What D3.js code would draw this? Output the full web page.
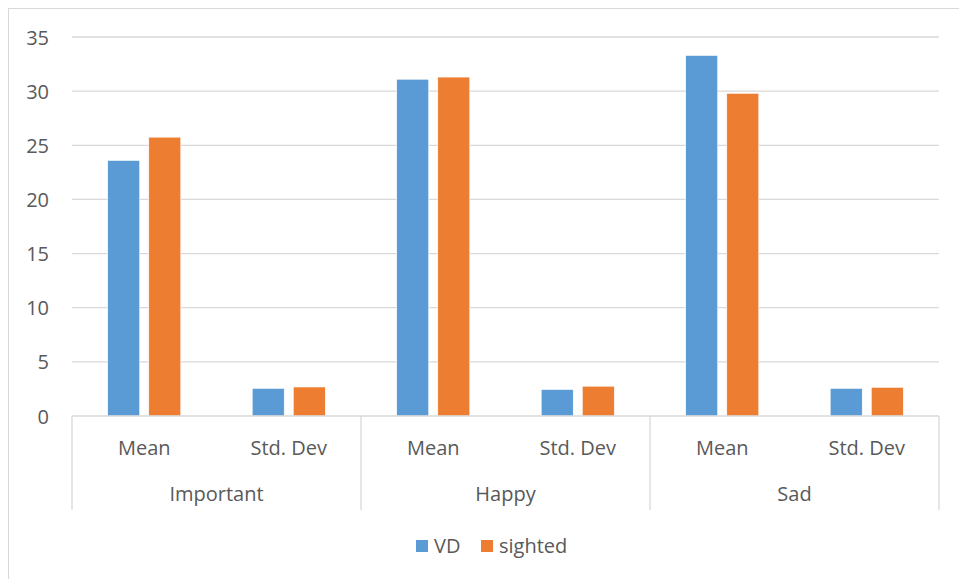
<!DOCTYPE html>
<html>
<head>
<meta charset="utf-8">
<script src="https://cdn.jsdelivr.net/npm/d3@7"></script>
<style>
  body { margin: 0; background: #fff; }
  text { font-family: "Open Sans", "Noto Sans", sans-serif; fill: #595959; }
</style>
</head>
<body>
<svg id="chart" width="959" height="579"></svg>
<script>
var groups = ['Important', 'Happy', 'Sad'];
var stats = ['Mean', 'Std. Dev'];
var series = ['VD', 'sighted'];
var vdValues = [23.6, 2.55, 31.1, 2.45, 33.3, 2.55];
var sightedValues = [25.75, 2.68, 31.3, 2.75, 29.8, 2.65];
var yTicks = [0, 5, 10, 15, 20, 25, 30, 35];
var colors = ['#5b9bd5', '#ed7d31'];

var svg = d3.select('#chart');

var plotLeft = 72, plotRight = 939, plotTop = 37, plotBottom = 416;
var fontSize = 20;

// outer chart border
svg.append('rect')
    .attr('x', 8.5).attr('y', 8.5)
    .attr('width', 1000).attr('height', 1000)
    .attr('fill', 'none')
    .attr('stroke', '#d9d9d9')
    .attr('stroke-width', 1);

var cats = [];
groups.forEach(function(g, gi) {
  stats.forEach(function(s, si) {
    var i = gi * stats.length + si;
    cats.push({ group: g, stat: s, i: i, values: [vdValues[i], sightedValues[i]] });
  });
});

var x0 = d3.scaleBand()
    .domain(cats.map(function(d) { return d.i; }))
    .range([plotLeft, plotRight]);

var x1 = d3.scaleBand()
    .domain(series)
    .range([0, x0.bandwidth()])
    .paddingInner(0.22)
    .paddingOuter(0.87);

var y = d3.scaleLinear()
    .domain([0, 35])
    .range([plotBottom, plotTop]);

// gridlines
svg.append('g')
  .selectAll('line')
  .data(yTicks.slice(1))
  .join('line')
    .attr('x1', plotLeft).attr('x2', plotRight)
    .attr('y1', function(d) { return y(d); })
    .attr('y2', function(d) { return y(d); })
    .attr('stroke', '#d9d9d9')
    .attr('stroke-width', 1.3);

// y axis labels
var yAxis = d3.axisLeft(y).tickValues(yTicks).tickSize(0).tickPadding(0);
var ya = svg.append('g')
    .attr('transform', 'translate(49,0)')
    .call(yAxis);
ya.select('.domain').remove();
ya.selectAll('text')
    .attr('font-size', fontSize)
    .attr('font-family', null)
    .attr('fill', null)
    .attr('dy', '0.35em');

// bars
var catG = svg.append('g')
  .selectAll('g')
  .data(cats)
  .join('g')
    .attr('transform', function(d) { return 'translate(' + x0(d.i) + ',0)'; });

catG.selectAll('rect')
  .data(function(d) { return d.values.map(function(v, k) { return { key: series[k], value: v, k: k }; }); })
  .join('rect')
    .attr('x', function(d) { return x1(d.key); })
    .attr('y', function(d) { return y(d.value); })
    .attr('width', x1.bandwidth())
    .attr('height', function(d) { return plotBottom - y(d.value); })
    .attr('fill', function(d) { return colors[d.k]; })
    .attr('stroke', '#fff')
    .attr('stroke-width', 0.6);

// category axis: baseline and dividers
svg.append('line')
    .attr('x1', plotLeft).attr('x2', plotRight)
    .attr('y1', plotBottom).attr('y2', plotBottom)
    .attr('stroke', '#d9d9d9')
    .attr('stroke-width', 1.3);

var groupScale = d3.scaleBand().domain(groups).range([plotLeft, plotRight]);
var dividers = groups.map(function(g) { return groupScale(g); }).concat([plotRight]);

svg.append('g')
  .selectAll('line')
  .data(dividers)
  .join('line')
    .attr('x1', function(d) { return d; })
    .attr('x2', function(d) { return d; })
    .attr('y1', plotBottom)
    .attr('y2', 510)
    .attr('stroke', '#d9d9d9')
    .attr('stroke-width', 1.3);

svg.append('g')
  .selectAll('text')
  .data(cats)
  .join('text')
    .attr('x', function(d) { return x0(d.i) + x0.bandwidth() / 2; })
    .attr('y', 455)
    .attr('text-anchor', 'middle')
    .attr('font-size', fontSize)
    .text(function(d) { return d.stat; });

svg.append('g')
  .selectAll('text')
  .data(groups)
  .join('text')
    .attr('x', function(d) { return groupScale(d) + groupScale.bandwidth() / 2; })
    .attr('y', 501)
    .attr('text-anchor', 'middle')
    .attr('font-size', fontSize)
    .text(function(d) { return d; });

// legend
var legend = svg.append('g');
var legendX = [416, 481];
series.forEach(function(s, k) {
  legend.append('rect')
      .attr('x', legendX[k]).attr('y', 540)
      .attr('width', 12).attr('height', 12)
      .attr('fill', colors[k]);
  legend.append('text')
      .attr('x', legendX[k] + 18)
      .attr('y', 553)
      .attr('font-size', fontSize)
      .text(s);
});
</script>
</body>
</html>
